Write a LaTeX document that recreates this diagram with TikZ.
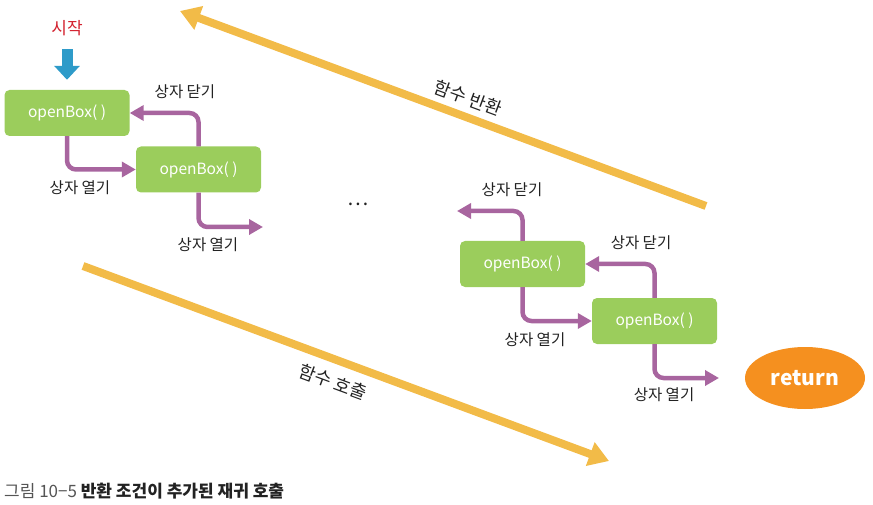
\documentclass[tikz,border=0pt]{standalone}
\usepackage{fontspec}
\setmainfont{Noto Sans CJK KR}
\usetikzlibrary{arrows.meta,positioning,shapes.geometric}
\definecolor{boxgreen}{HTML}{9BCD5C}
\definecolor{arpurple}{HTML}{A8659F}
\definecolor{argold}{HTML}{F2BB48}
\definecolor{startblue}{HTML}{2E9BC9}
\definecolor{startred}{HTML}{D3222F}
\definecolor{retorange}{HTML}{F5901F}
\definecolor{capgray}{HTML}{555555}
\definecolor{txtdark}{HTML}{222222}
\tikzset{
  fbox/.style={rounded corners=5pt,fill=boxgreen,text=white,minimum width=125pt,minimum height=46pt,inner sep=0pt,font=\fontsize{15.5}{17}\selectfont},
  lbl/.style={text=txtdark,inner sep=1pt,font=\fontsize{15.5}{17}\selectfont},
  callar/.style={-{Triangle[length=14pt,width=15pt]},draw=arpurple,line width=4.5pt,rounded corners=9pt},
  flowar/.style={-{Triangle[length=20pt,width=24pt]},draw=argold,line width=8pt},
  flowlbl/.style={text=txtdark,font=\fontsize{18}{20}\selectfont,rotate=-20.3},
  startar/.style={-{Triangle[length=14pt,width=25pt]},draw=startblue,line width=11pt},
}
\begin{document}
\begin{tikzpicture}[x=1pt,y=-1pt]
  \useasboundingbox (0,0) rectangle (873,505);
  % start
  \node[text=startred,font=\fontsize{17}{19}\selectfont] (start) at (67,28) {시작};
  % function boxes
  \node[fbox] (b1) at (67,113) {openBox( )};
  \node[fbox] (b2) at (198.5,169.5) {openBox( )};
  \node[fbox] (b3) at (522.5,264) {openBox( )};
  \node[fbox] (b4) at (654.5,321) {openBox( )};
  \node[ellipse,fill=retorange,text=white,minimum width=120pt,minimum height=62pt,font=\fontsize{21}{23}\selectfont\bfseries] (ret) at (805,378) {return};
  \draw[startar] ([yshift=-10pt]start.south) -- ([yshift=10pt]b1.north);
  % free ends
  \coordinate (o2) at (263,227);
  \coordinate (c3) at (457,211);
  \coordinate (o4) at (719,378);
  \draw[callar] (b1.south) |- (b2.west);
  \draw[callar] (b2.north) |- (b1.east);
  \draw[callar] (b2.south) |- (o2);
  \draw[callar] (b3.north) |- (c3);
  \draw[callar] (b4.north) |- (b3.east);
  \draw[callar] (b3.south) |- (b4.west);
  \draw[callar] (b4.south) |- (o4);
  \node[lbl] (cl1) at (185,92) {상자 닫기};
  \node[lbl] (op1) at (80,188) {상자 열기};
  \node[lbl] (op2) at (208,245) {상자 열기};
  \node[lbl] (cl3) at (512,190) {상자 닫기};
  \node[lbl] (cl4) at (641,243) {상자 닫기};
  \node[lbl] (op3) at (535,340) {상자 열기};
  \node[lbl] (op4) at (664,395) {상자 열기};
  \node[text=txtdark,font=\fontsize{20}{22}\selectfont] (dots) at (358,204) {…};
  % call / return
  \coordinate (rtail) at (706,206);
  \coordinate (rtip) at (180,11);
  \coordinate (ctail) at (83,266);
  \coordinate (ctip) at (609,461);
  \draw[flowar] (rtail) -- (rtip);
  \draw[flowar] (ctail) -- (ctip);
  \node[flowlbl] (retlbl) at (468,98) {함수 반환};
  \node[flowlbl] (calllbl) at (333,382) {함수 호출};
  % caption
  \node[anchor=west,inner sep=0pt,font=\fontsize{17}{19}\selectfont] (cap) at (4,491) {{\color{capgray}그림 10−5} {\color{txtdark}\bfseries 반환 조건이 추가된 재귀 호출}};
\end{tikzpicture}
\end{document}
